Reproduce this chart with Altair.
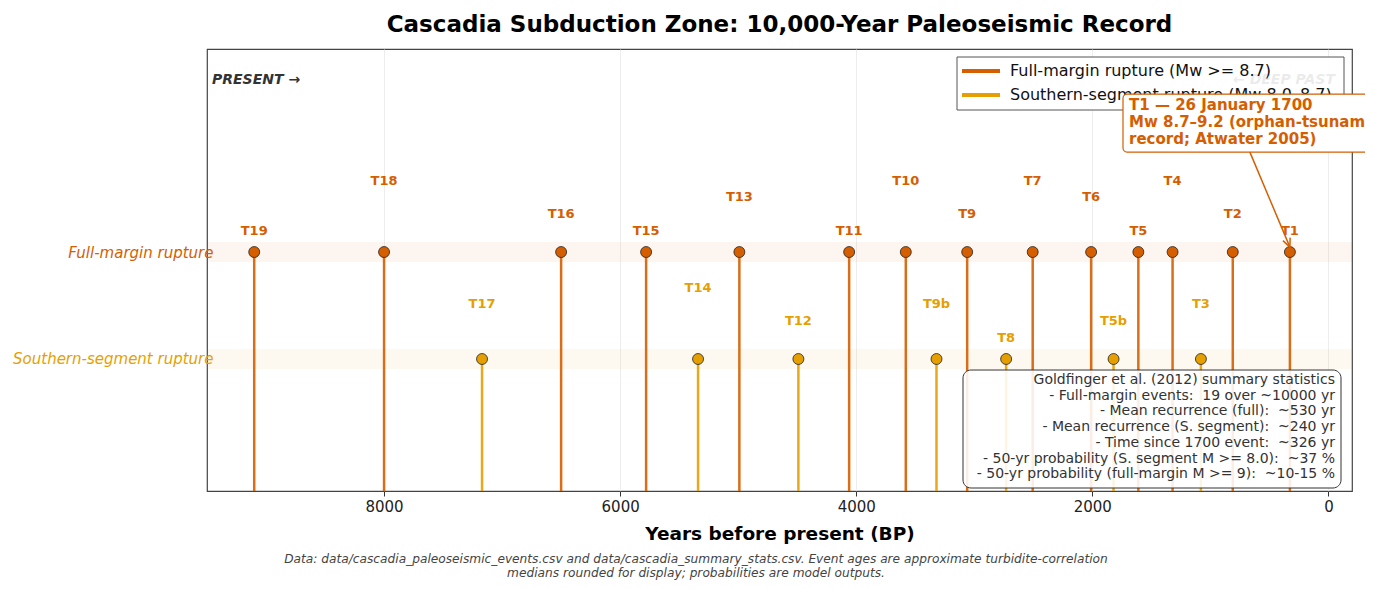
import math
import altair as alt
import pandas as pd

# ---------------- data ----------------
FULL_IDS = ["T19", "T18", "T16", "T15", "T13", "T11", "T10", "T9", "T7", "T6", "T5", "T4", "T2", "T1"]
FULL_AGES = [9100, 8000, 6500, 5780, 4990, 4060, 3580, 3060, 2505, 2010, 1610, 1320, 810, 326]
FULL_TIERS = [0, 3, 1, 0, 2, 0, 3, 1, 3, 2, 0, 3, 1, 0]

SOUTH_IDS = ["T17", "T14", "T12", "T9b", "T8", "T5b", "T3"]
SOUTH_AGES = [7170, 5340, 4490, 3320, 2730, 1820, 1080]
SOUTH_TIERS = [2, 3, 1, 2, 0, 1, 2]

ROW_NAMES = ["Full-margin rupture", "Southern-segment rupture"]
LEGEND_NAMES = ["Full-margin rupture (Mw >= 8.7)", "Southern-segment rupture (Mw 8.0\u20138.7)"]
ROW_Y = [1.0, 0.5]
COLORS = ["#d55e00", "#e69f00"]

X_TICKS = [8000, 6000, 4000, 2000, 0]
X_DOMAIN = [-200, 9500]
Y_DOMAIN = [-0.117, 1.949]

STAT_TITLE = "Goldfinger et al. (2012) summary statistics"
STAT_LABELS = ["Full-margin events", "Mean recurrence (full)", "Mean recurrence (S. segment)",
               "Time since 1700 event", "50-yr probability (S. segment M >= 8.0)",
               "50-yr probability (full-margin M >= 9)"]
STAT_VALUES = ["19 over ~10000 yr", "~530 yr", "~240 yr", "~326 yr", "~37 %", "~10-15 %"]

ANNOT_LINES = ["T1 \u2014 26 January 1700", "Mw 8.7\u20139.2 (orphan-tsunami", "record; Atwater 2005)"]
FOOTNOTE = ["Data: data/cascadia_paleoseismic_events.csv and data/cascadia_summary_stats.csv. Event ages are approximate turbidite-correlation",
            "medians rounded for display; probabilities are model outputs."]

# ---------------- layout ----------------
W, H = 1145, 442
PAD = {"left": 199, "top": 41, "right": 13, "bottom": 89}
FONT = "DejaVu Sans"
LABEL_BASE, LABEL_STEP = 0.1, 0.078
BAND_HALF = 0.047

rows = []
for ids, ages, tiers, ry, col in [(FULL_IDS, FULL_AGES, FULL_TIERS, ROW_Y[0], COLORS[0]),
                                  (SOUTH_IDS, SOUTH_AGES, SOUTH_TIERS, ROW_Y[1], COLORS[1])]:
    for i, a, t in zip(ids, ages, tiers):
        rows.append({"event": i, "age": a, "y": ry, "base": Y_DOMAIN[0],
                     "label_y": ry + LABEL_BASE + LABEL_STEP * t, "color": col})
events = pd.DataFrame(rows)

bands = pd.DataFrame({"x0": [X_DOMAIN[0]] * 2, "x1": [X_DOMAIN[1]] * 2,
                      "y0": [r - BAND_HALF for r in ROW_Y], "y1": [r + BAND_HALF for r in ROW_Y],
                      "color": COLORS})

xscale = alt.Scale(domain=X_DOMAIN, reverse=True, nice=False, zero=False)
yscale = alt.Scale(domain=Y_DOMAIN, nice=False, zero=False)
xaxis = alt.Axis(values=X_TICKS, format="d", grid=True, gridColor="#e8e8e8", gridWidth=0.8,
                 tickColor="#333333", tickSize=5, domain=False, labelFontSize=15, labelColor="#222222",
                 labelPadding=3, title="Years before present (BP)", titleFontSize=18.5,
                 titleFontWeight="bold", titlePadding=10, titleColor="#000000", labelFlush=False)
label_expr = "datum.value == %s ? '%s' : '%s'" % (ROW_Y[0], ROW_NAMES[0], ROW_NAMES[1])
yaxis = alt.Axis(values=ROW_Y, labelExpr=label_expr, grid=False, ticks=False, domain=False,
                 labelFontSize=15, labelFontStyle="italic", labelPadding=-6, labelLimit=300,
                 labelColor={"condition": {"test": "datum.value == %s" % ROW_Y[0], "value": COLORS[0]},
                             "value": COLORS[1]},
                 title=None)


def X(field):
    return alt.X(field, type="quantitative", scale=xscale, axis=xaxis)


def Y(field):
    return alt.Y(field, type="quantitative", scale=yscale, axis=yaxis)


band_layer = alt.Chart(bands).mark_rect(opacity=0.06).encode(
    x=X("x0"), x2="x1", y=Y("y0"), y2="y1", fill=alt.Fill("color:N", scale=None))

stems = alt.Chart(events).mark_rule(strokeWidth=2.5, opacity=0.9).encode(
    x=X("age"), y=Y("y"), y2="base", stroke=alt.Stroke("color:N", scale=None))

dots = alt.Chart(events).mark_point(filled=True, shape="circle", size=120, stroke="#222222",
                                    strokeWidth=0.8, opacity=1).encode(
    x=X("age"), y=Y("y"), fill=alt.Fill("color:N", scale=None))

labels = alt.Chart(events).mark_text(font=FONT, fontSize=13, fontWeight="bold", baseline="middle").encode(
    x=X("age"), y=Y("label_y"), text="event:N", fill=alt.Fill("color:N", scale=None))

one = pd.DataFrame({"k": [0]})

present_txt = alt.Chart(one).mark_text(font=FONT, fontSize=14, fontWeight="bold", fontStyle="italic",
                                       align="left", baseline="middle", color="#333333").encode(
    x=alt.value(5), y=alt.value(31), text=alt.value("PRESENT \u2192"))
past_txt = alt.Chart(one).mark_text(font=FONT, fontSize=14, fontWeight="bold", fontStyle="italic",
                                    align="right", baseline="middle", color="#333333").encode(
    x=alt.value(1128), y=alt.value(31), text=alt.value("\u2190 DEEP PAST"))

# legend (drawn as marks so the annotation can sit above it)
legend_box = alt.Chart(one).mark_rect(fill="white", fillOpacity=0.9, stroke="#555555", strokeWidth=1).encode(
    x=alt.value(750), x2=alt.value(1137), y=alt.value(8), y2=alt.value(61))
leg_df = pd.DataFrame({"name": LEGEND_NAMES, "color": COLORS, "py": [22, 46]})
leg_sym = alt.Chart(leg_df).mark_rule(strokeWidth=4).encode(
    x=alt.value(755), x2=alt.value(793), y=alt.Y("py:Q", scale=None),
    stroke=alt.Stroke("color:N", scale=None))
leg_txt = alt.Chart(leg_df).mark_text(font=FONT, fontSize=16, align="left", baseline="middle",
                                      color="#111111").encode(
    x=alt.value(803), y=alt.Y("py:Q", scale=None), text="name:N")

# annotation for T1
T1_AGE = FULL_AGES[FULL_IDS.index("T1")]
ANN_X0, ANN_X1, ANN_Y0, ANN_Y1 = 1740, -700, 1.467, 1.738
ARROW_START = 665
ARROW_TIP_Y = 1.023
ann_box = alt.Chart(pd.DataFrame({"x0": [ANN_X0], "x1": [ANN_X1], "y0": [ANN_Y0], "y1": [ANN_Y1]})).mark_rect(
    fill="white", stroke=COLORS[0], strokeWidth=1.2, cornerRadius=4, clip=False).encode(
    x=X("x0"), x2="x1", y=Y("y0"), y2="y1")
ann_txt = alt.Chart(pd.DataFrame({"x": [1689], "y": [1.72], "t": [ANNOT_LINES]})).mark_text(
    font=FONT, fontSize=15, fontWeight="bold", align="left", baseline="top", lineHeight=17,
    color=COLORS[0]).encode(x=X("x"), y=Y("y"), text="t")
arrow = alt.Chart(pd.DataFrame({"x0": [ARROW_START], "x1": [T1_AGE], "y0": [ANN_Y0], "y1": [ARROW_TIP_Y]})).mark_rule(
    stroke=COLORS[0], strokeWidth=1.5).encode(x=X("x0"), x2="x1", y=Y("y0"), y2="y1")
px_per_year = W / (X_DOMAIN[1] - X_DOMAIN[0])
px_per_unit = H / (Y_DOMAIN[1] - Y_DOMAIN[0])
dxp = (ARROW_START - T1_AGE) * px_per_year
dyp = (ANN_Y0 - ARROW_TIP_Y) * px_per_unit
ang = (360 - math.degrees(math.atan2(dxp, dyp))) % 360
arrow_head = alt.Chart(pd.DataFrame({"x": [T1_AGE], "y": [ARROW_TIP_Y]})).mark_point(
    shape="M -0.45 -1 L 0 0 L 0.45 -1", size=300, filled=False, stroke=COLORS[0], strokeWidth=1.5,
    angle=ang, opacity=1).encode(x=X("x"), y=Y("y"))

# stats box
stat_lines = [STAT_TITLE] + ["- %s:\u00a0 %s" % (a, b) for a, b in zip(STAT_LABELS, STAT_VALUES)]
stats_box = alt.Chart(one).mark_rect(fill="white", fillOpacity=0.88, stroke="#333333", strokeWidth=1,
                                     cornerRadius=8).encode(
    x=alt.value(756), x2=alt.value(1134), y=alt.value(321), y2=alt.value(439))
stats_txt = alt.Chart(pd.DataFrame({"t": [stat_lines]})).mark_text(
    font=FONT, fontSize=14, align="right", baseline="top", lineHeight=15.7, color="#333333").encode(
    x=alt.value(1128), y=alt.value(324), text="t")

foot = alt.Chart(pd.DataFrame({"t": [FOOTNOTE]})).mark_text(
    font=FONT, fontSize=12.2, fontStyle="italic", align="center", baseline="top", lineHeight=14,
    color="#444444").encode(x=alt.value(489), y=alt.value(504), text="t")

chart = alt.layer(
    band_layer, stems, dots, labels, present_txt, past_txt, legend_box, leg_sym, leg_txt,
    stats_box, stats_txt, ann_box, ann_txt, arrow, arrow_head, foot
).properties(
    width=W, height=H,
    title=alt.Title("Cascadia Subduction Zone: 10,000-Year Paleoseismic Record", fontSize=23,
                    fontWeight="bold", font=FONT, anchor="middle", offset=12, color="#000000"),
    autosize=alt.AutoSizeParams(type="none"),
    padding=PAD,
).configure(font=FONT).configure_view(stroke="#444444", strokeWidth=1.2).configure_axis(
    labelFont=FONT, titleFont=FONT)

chart.save("out.html", embed_options={"renderer": "svg", "actions": False})
